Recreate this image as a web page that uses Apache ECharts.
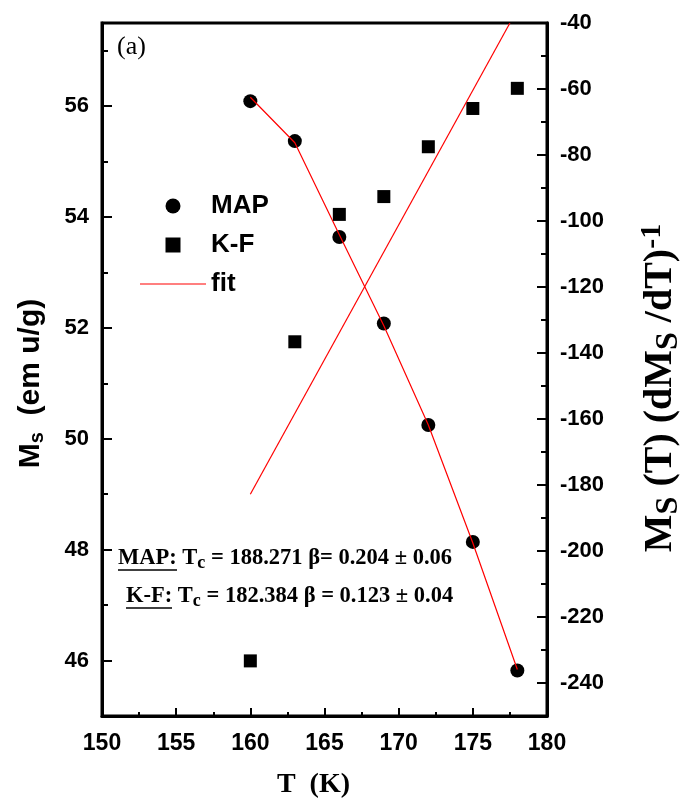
<!DOCTYPE html>
<html>
<head>
<meta charset="utf-8">
<script src="https://cdn.jsdelivr.net/npm/echarts@6/dist/echarts.min.js"></script>
<style>
  html, body { margin: 0; padding: 0; background: #fff; }
  #chart { width: 684px; height: 800px; }
</style>
</head>
<body>
<div id="chart"></div>
<script>
// ---- data ----
const temps = [160, 163, 166, 169, 172, 175, 178];
const mapMs = [56.09, 55.37, 53.64, 52.08, 50.25, 48.14, 45.82];
const kfValues = [-233.3, -136.6, -98.0, -92.6, -77.5, -65.9, -59.8];
const mapFitT = [160, 163, 166, 169, 172, 175, 178];
const mapFit = [56.16, 55.34, 53.68, 52.04, 50.25, 48.12, 45.84];
const kfFitT = [160.0, 177.5];
const kfFit = [-182.8, -40.0];
const leftTicks = [46, 48, 50, 52, 54, 56];
const leftMinorTicks = [47, 49, 51, 53, 55, 57];
const rightTicks = [-240, -220, -200, -180, -160, -140, -120, -100, -80, -60, -40];
const rightMinorTicks = [-230, -210, -190, -170, -150, -130, -110, -90, -70, -50];
const annotMAP = '= 188.271 β= 0.204 ± 0.06';
const annotKF = '= 182.384 β = 0.123 ± 0.04';

const pair = (xs, ys) => xs.map((x, i) => [x, ys[i]]);

const SANS = 'Liberation Sans, Arial, sans-serif';
const SERIF = 'Liberation Serif, Times New Roman, serif';
const labelStyle = { fontFamily: SANS, fontWeight: 'bold', fontSize: 22, color: '#000' };

const chart = echarts.init(document.getElementById('chart'), null, { renderer: 'canvas' });

const annotRich = {
  u: { fontFamily: SERIF, fontWeight: 'bold', fontSize: 22.5, fill: '#000' },
  sub: { fontFamily: SERIF, fontWeight: 'bold', fontSize: 18, fill: '#000', verticalAlign: 'bottom', padding: [10, 0, 0, 0] }
};

const option = {
  backgroundColor: '#fff',
  animation: false,
  grid: {
    left: 102, right: 137, top: 23, bottom: 84,
    outerBoundsMode: 'none', containLabel: false,
    show: true, borderColor: '#000', borderWidth: 3, backgroundColor: 'transparent'
  },
  legend: {
    orient: 'vertical',
    left: 135, top: 188,
    itemWidth: 66, itemHeight: 15, itemGap: 13,
    symbolKeepAspect: true,
    textStyle: { fontFamily: SANS, fontWeight: 'bold', fontSize: 26, lineHeight: 26, color: '#000' },
    data: [
      { name: 'MAP', icon: 'circle' },
      { name: 'K-F', icon: 'path://M0,0L10,0L10,10L0,10Z' },
      { name: 'fit', icon: 'path://M0,0L66,0L66,1.2L0,1.2Z' }
    ]
  },
  xAxis: {
    type: 'value', min: 150, max: 180, interval: 5,
    axisLine: { show: true, lineStyle: { color: '#000', width: 3 } },
    axisTick: { show: true, inside: true, length: 8, lineStyle: { color: '#000', width: 2 } },
    minorTick: { show: true, splitNumber: 2, length: 4, lineStyle: { color: '#000', width: 2 } },
    axisLabel: { margin: 16, fontSize: 23, fontFamily: SANS, fontWeight: 'bold', color: '#000' },
    splitLine: { show: false },
    name: 'T  (K)',
    nameLocation: 'middle', nameGap: 55,
    nameTextStyle: { fontFamily: SERIF, fontWeight: 'bold', fontSize: 28, color: '#000', padding: [0, 22, 0, 0] }
  },
  yAxis: [
    {
      type: 'value', position: 'left', min: 45, max: 57.5,
      axisLine: { show: true, lineStyle: { color: '#000', width: 3 } },
      axisTick: { show: true, inside: true, length: 10, customValues: leftTicks, lineStyle: { color: '#000', width: 2 } },
      axisLabel: Object.assign({ margin: 13, customValues: leftTicks }, labelStyle),
      splitLine: { show: false },
      name: 'M{sub|s}  (em u/g)',
      nameLocation: 'middle', nameGap: 55, nameRotate: 90,
      nameTextStyle: {
        fontFamily: SANS, fontWeight: 'bold', fontSize: 30, color: '#000', padding: [0, 28, 0, 0],
        rich: { sub: { fontFamily: SANS, fontWeight: 'bold', fontSize: 20, color: '#000', verticalAlign: 'bottom', padding: [12, 0, 0, 0] } }
      }
    },
    {
      type: 'value', position: 'right', min: -250, max: -40,
      axisLine: { show: true, lineStyle: { color: '#000', width: 3 } },
      axisTick: { show: true, inside: true, length: 10, customValues: rightTicks, lineStyle: { color: '#000', width: 2 } },
      axisLabel: Object.assign({ margin: 13, customValues: rightTicks }, labelStyle),
      splitLine: { show: false },
      name: 'M{sub|S} (T) (dM{sub|S} /dT){sup|-1}',
      nameLocation: 'middle', nameGap: 90, nameRotate: 90,
      nameTextStyle: {
        fontFamily: SERIF, fontWeight: 'bold', fontSize: 40, color: '#000', padding: [0, 37, 0, 0],
        rich: {
          sub: { fontFamily: SERIF, fontWeight: 'bold', fontSize: 32, color: '#000', verticalAlign: 'bottom', padding: [16, 0, 0, 0] },
          sup: { fontFamily: SERIF, fontWeight: 'bold', fontSize: 30, color: '#000', verticalAlign: 'top', padding: [0, 0, 16, 0] }
        }
      }
    },
    {
      type: 'value', position: 'left', min: 45, max: 57.5,
      axisLine: { show: false },
      axisTick: { show: true, inside: true, length: 6, customValues: leftMinorTicks, lineStyle: { color: '#000', width: 2 } },
      axisLabel: { show: false },
      splitLine: { show: false }
    },
    {
      type: 'value', position: 'right', min: -250, max: -40,
      axisLine: { show: false },
      axisTick: { show: true, inside: true, length: 6, customValues: rightMinorTicks, lineStyle: { color: '#000', width: 2 } },
      axisLabel: { show: false },
      splitLine: { show: false }
    }
  ],
  series: [
    {
      name: 'MAP', type: 'scatter', yAxisIndex: 0,
      symbol: 'circle', symbolSize: 14,
      itemStyle: { color: '#000', opacity: 1 },
      data: pair(temps, mapMs), z: 2
    },
    {
      name: 'K-F', type: 'scatter', yAxisIndex: 1,
      symbol: 'rect', symbolSize: 13,
      itemStyle: { color: '#000', opacity: 1 },
      data: pair(temps, kfValues), z: 2
    },
    {
      name: 'fit', type: 'line', yAxisIndex: 0,
      symbol: 'none', lineStyle: { color: '#ff0000', width: 1.2 }, itemStyle: { color: '#ff0000' },
      data: pair(mapFitT, mapFit), z: 3
    },
    {
      name: 'fit', type: 'line', yAxisIndex: 1,
      symbol: 'none', lineStyle: { color: '#ff0000', width: 1.2 }, itemStyle: { color: '#ff0000' },
      data: pair(kfFitT, kfFit), z: 3
    }
  ],
  graphic: [
    {
      type: 'text', left: 117, top: 34,
      style: { text: '(a)', fontFamily: SERIF, fontSize: 26, fill: '#000' }
    },
    {
      type: 'text', left: 118, top: 547,
      style: {
        text: '{u|MAP:} T{sub|c} ' + annotMAP,
        fontFamily: SERIF, fontWeight: 'bold', fontSize: 22.5, fill: '#000', rich: annotRich
      }
    },
    {
      type: 'text', left: 126, top: 585,
      style: {
        text: '{u|K-F:} T{sub|c} ' + annotKF,
        fontFamily: SERIF, fontWeight: 'bold', fontSize: 22.5, fill: '#000', rich: annotRich
      }
    },
    { type: 'line', shape: { x1: 118, y1: 570, x2: 177, y2: 570 }, style: { stroke: '#000', lineWidth: 1.5 } },
    { type: 'line', shape: { x1: 126, y1: 608, x2: 172, y2: 608 }, style: { stroke: '#000', lineWidth: 1.5 } }
  ]
};

chart.setOption(option);
</script>
</body>
</html>
